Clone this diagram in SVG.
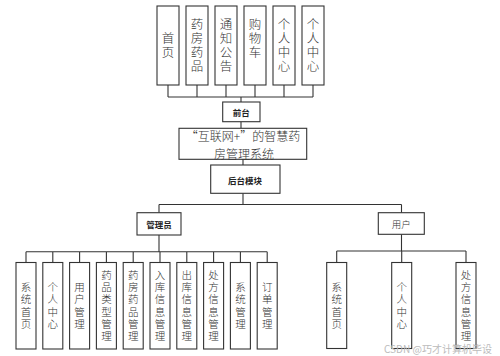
<svg xmlns="http://www.w3.org/2000/svg" width="500" height="356" viewBox="0 0 500 356">
<style>
.bg{fill:#fff}
.box{fill:#fff;stroke:#333;stroke-width:1.1}
.ln{fill:none;stroke:#333;stroke-width:1.1}
.t{font-family:"Noto Sans CJK SC","Noto Sans",sans-serif;fill:#333;text-anchor:middle;dominant-baseline:central;font-weight:300}
.v{font-family:"Noto Sans CJK SC","Noto Sans",sans-serif;fill:#333;text-anchor:middle;writing-mode:vertical-rl;font-weight:300}
.big{font-size:12.5px;letter-spacing:1.5px}
.sm{font-size:10.5px;letter-spacing:1.8px}
.b{font-family:"Noto Sans CJK SC","Noto Sans",sans-serif;fill:#222;text-anchor:middle;dominant-baseline:central;font-size:8.5px;font-weight:700}
.wm{font-family:"Noto Sans CJK SC","Noto Sans",sans-serif;fill:#bbb;font-size:10px}
</style>
<rect class="bg" x="0" y="0" width="500" height="356"/>
<g id="connectors">
<path class="ln" d="M168 85V97M197 85V97M226 85V97M255 85V97M284 85V97M313 85V97M168 97H313M241 97V102"/>
<path class="ln" d="M241 121.7V128.3M243 159.3V165M243 193.3V204.5M159 204.5H401.5M159 204.5V212.7M401.5 204.5V212.7"/>
<path class="ln" d="M159 235V251.7M26 251.7H267.2M26 251.7V262.5M52.8 251.7V262.5M79.6 251.7V262.5M106.4 251.7V262.5M133.2 251.7V262.5M160 251.7V262.5M186.8 251.7V262.5M213.6 251.7V262.5M240.4 251.7V262.5M267.2 251.7V262.5"/>
<path class="ln" d="M401.5 234.3V251M336.7 251H466M336.7 251V262.5M401.7 251V262.5M466 251V262.5"/>
</g>
<g id="n-shouye"><rect class="box" x="157" y="6" width="22" height="79"/><text class="v big" x="168" y="46.2">首页</text></g>
<g id="n-yaofang"><rect class="box" x="186" y="6" width="22" height="79"/><text class="v big" x="197" y="46.2">药房药品</text></g>
<g id="n-tongzhi"><rect class="box" x="215" y="6" width="22" height="79"/><text class="v big" x="226" y="46.2">通知公告</text></g>
<g id="n-gouwuche"><rect class="box" x="244" y="6" width="22" height="79"/><text class="v big" x="255" y="39.2">购物车</text></g>
<g id="n-geren1"><rect class="box" x="273" y="6" width="22" height="79"/><text class="v big" x="284" y="46.2">个人中心</text></g>
<g id="n-geren2"><rect class="box" x="302" y="6" width="22" height="79"/><text class="v big" x="313" y="46.2">个人中心</text></g>
<g id="n-qiantai"><rect class="box" x="222.7" y="102" width="37.3" height="19.7"/><text class="b" x="241.3" y="112">前台</text></g>
<g id="n-system"><rect class="box" x="179" y="128.3" width="127.7" height="31"/><text class="t" style="font-size:12px"><tspan x="243" y="135.3">“互联网+”的智慧药</tspan><tspan x="244" y="152.7">房管理系统</tspan></text></g>
<g id="n-houtai"><rect class="box" x="210.7" y="165" width="69.3" height="28.3"/><text class="b" x="245" y="179.5">后台模块</text></g>
<g id="n-admin"><rect class="box" x="137" y="212.7" width="44" height="22.3"/><text class="b" x="159" y="224">管理员</text></g>
<g id="n-user"><rect class="box" x="378.3" y="212.7" width="46" height="21.6"/><text class="t" style="font-size:9.5px" x="401.3" y="223.5">用户</text></g>
<g id="a1"><rect class="box" x="16" y="262.5" width="20" height="86.5"/><text class="v sm" x="26" y="306.5">系统首页</text></g>
<g id="a2"><rect class="box" x="42.8" y="262.5" width="20" height="86.5"/><text class="v sm" x="52.8" y="306.5">个人中心</text></g>
<g id="a3"><rect class="box" x="69.6" y="262.5" width="20" height="86.5"/><text class="v sm" x="79.6" y="306.5">用户管理</text></g>
<g id="a4"><rect class="box" x="96.4" y="262.5" width="20" height="86.5"/><text class="v sm" x="106.4" y="306.5">药品类型管理</text></g>
<g id="a5"><rect class="box" x="123.2" y="262.5" width="20" height="86.5"/><text class="v sm" x="133.2" y="306.5">药房药品管理</text></g>
<g id="a6"><rect class="box" x="150" y="262.5" width="20" height="86.5"/><text class="v sm" x="160" y="306.5">入库信息管理</text></g>
<g id="a7"><rect class="box" x="176.8" y="262.5" width="20" height="86.5"/><text class="v sm" x="186.8" y="306.5">出库信息管理</text></g>
<g id="a8"><rect class="box" x="203.6" y="262.5" width="20" height="86.5"/><text class="v sm" x="213.6" y="306.5">处方信息管理</text></g>
<g id="a9"><rect class="box" x="230.4" y="262.5" width="20" height="86.5"/><text class="v sm" x="240.4" y="306.5">系统管理</text></g>
<g id="a10"><rect class="box" x="257.2" y="262.5" width="20" height="86.5"/><text class="v sm" x="267.2" y="306.5">订单管理</text></g>
<g id="u1"><rect class="box" x="326.7" y="262.5" width="20" height="86"/><text class="v sm" x="336.7" y="306.5">系统首页</text></g>
<g id="u2"><rect class="box" x="391.7" y="262.5" width="20" height="86"/><text class="v sm" x="401.7" y="306.5">个人中心</text></g>
<g id="u3"><rect class="box" x="456" y="262.5" width="20" height="86"/><text class="v sm" x="466" y="306.5">处方信息管理</text></g>
<text class="wm" x="384" y="353">CSDN @巧才计算机毕设</text>
</svg>
